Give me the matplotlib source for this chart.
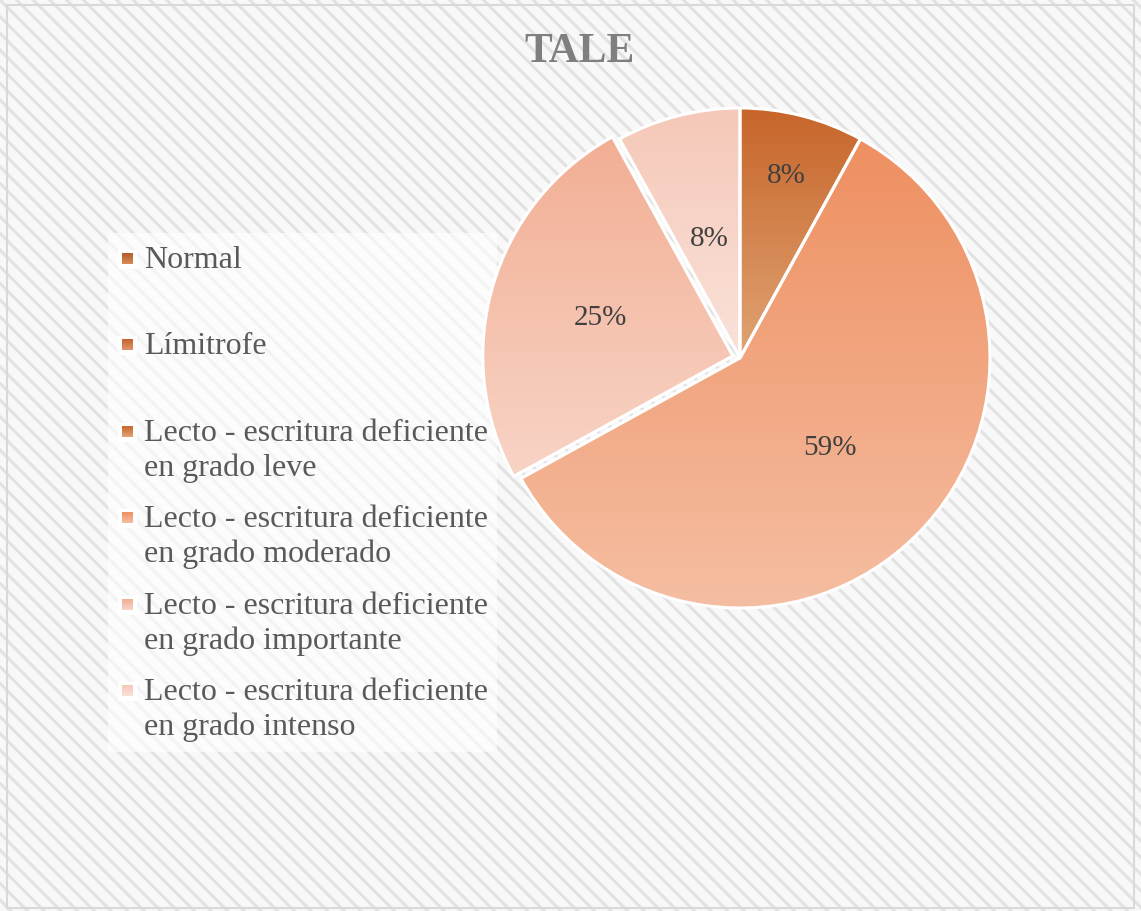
import numpy as np
import matplotlib
matplotlib.use("Agg")
import matplotlib.pyplot as plt
from matplotlib.patches import Rectangle
from matplotlib.colors import LinearSegmentedColormap

# data
categories = [
    "Normal",
    "Límitrofe",
    "Lecto - escritura deficiente\nen grado leve",
    "Lecto - escritura deficiente\nen grado moderado",
    "Lecto - escritura deficiente\nen grado importante",
    "Lecto - escritura deficiente\nen grado intenso",
]
values = [0, 0, 8, 59, 25, 8]
pct_labels = ["", "", "8%", "59%", "25%", "8%"]

# styling (gradient top / bottom for each slice)
grad_top = ["#B45C2A", "#C4632C", "#C7652A", "#EE8F60", "#F2AE94", "#F5C8B8"]
grad_bottom = ["#D88C58", "#E0946A", "#E0A474", "#F5BEA2", "#F8D4C6", "#FAE2DA"]
label_dist = [0, 0, 0.75, 0.51, 0.55, 0.49]
explode = [0, 0, 0, 0, 0.03, 0]

W, H = 1141, 911
plt.rcParams["hatch.linewidth"] = 2.2
serif = ["Liberation Serif", "DejaVu Serif"]


def grad_fill(ax, top, bottom, extent, clip=None, zorder=1):
    cmap = LinearSegmentedColormap.from_list("g", [top, bottom])
    arr = np.linspace(0, 1, 256)[:, None]
    im = ax.imshow(arr, cmap=cmap, extent=extent, origin="upper",
                   aspect="auto", interpolation="bilinear", zorder=zorder)
    if clip is not None:
        im.set_clip_path(clip)
    return im


fig = plt.figure(figsize=(W / 100, H / 100), dpi=100)

# background layer in pixel coords (y down)
bg = fig.add_axes([0, 0, 1, 1])
bg.set_xlim(0, W)
bg.set_ylim(H, 0)
bg.axis("off")
bg.add_patch(Rectangle((0, 0), W, H, facecolor="#F8F8F8", edgecolor="#E2E2E2",
                       hatch="\\\\", linewidth=0, zorder=0))
bg.add_patch(Rectangle((7, 5), 1127, 903, facecolor="none", edgecolor="#D9D9D9",
                       linewidth=1.5, zorder=1))

# title
bg.text(580, 52, "TALE", ha="center", va="center", fontsize=30,
        fontweight="bold", color="#7F7F7F", family=serif, zorder=5)

# legend box
bg.add_patch(Rectangle((108, 233), 389, 519, facecolor="white", alpha=0.6,
                       edgecolor="none", zorder=2))
y0, step, line_gap = 268, 86.4, 35
for i, cat in enumerate(categories):
    yb = y0 + i * step
    bg.add_patch(Rectangle((118, yb - 18), 19, 19, facecolor="white",
                           edgecolor="none", zorder=3))
    grad_fill(bg, grad_top[i], grad_bottom[i], (122, 133, yb - 4, yb - 15), zorder=4)
    for k, line in enumerate(cat.split("\n")):
        bg.text(144, yb + k * line_gap, line, ha="left", va="baseline",
                fontsize=23, color="#595959", family=serif, zorder=5)

# pie axes: center (740, 358) px, radius 250 px
cx, cy, r, pad = 740, 358, 250, 1.1
half = r * pad
ax = fig.add_axes([(cx - half) / W, (H - cy - half) / H, 2 * half / W, 2 * half / H])
ax.set_zorder(2)
wedges, _ = ax.pie(values, startangle=90, counterclock=False, explode=explode,
                   wedgeprops=dict(edgecolor="white", linewidth=2.2))
ax.set_xlim(-pad, pad)
ax.set_ylim(-pad, pad)
ax.axis("off")

for i, w in enumerate(wedges):
    if values[i] == 0:
        w.set_visible(False)
        continue
    ext = w.get_path().get_extents()
    w.set_facecolor("none")
    w.set_zorder(3)
    grad_fill(ax, grad_top[i], grad_bottom[i], (ext.x0, ext.x1, ext.y0, ext.y1),
              clip=w, zorder=2)
    mid = np.deg2rad((w.theta1 + w.theta2) / 2)
    wx, wy = w.center
    ax.text(wx + label_dist[i] * np.cos(mid), wy + label_dist[i] * np.sin(mid),
            pct_labels[i], ha="center", va="center", fontsize=21,
            color="#404040", family=serif, zorder=5)

fig.savefig("out.png", dpi=100)
